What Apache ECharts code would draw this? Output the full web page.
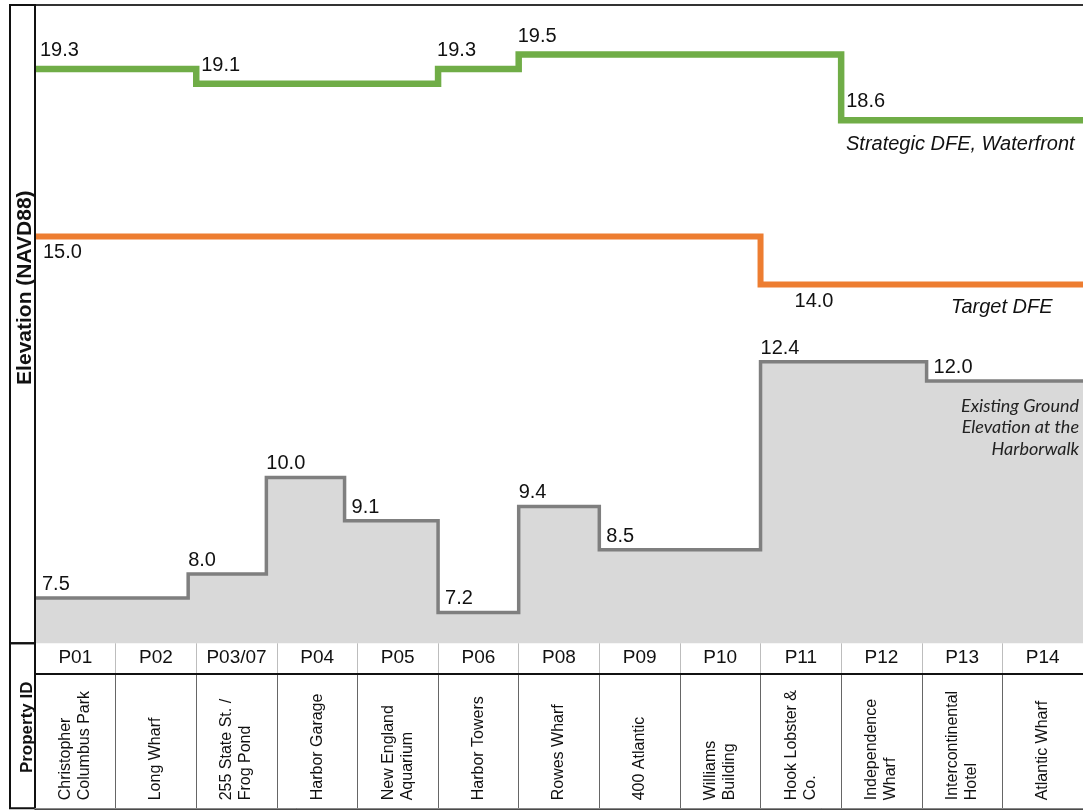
<!DOCTYPE html>
<html>
<head>
<meta charset="utf-8">
<script src="https://cdn.jsdelivr.net/npm/echarts@6/dist/echarts.min.js"></script>
<style>html,body{margin:0;padding:0;background:#fff}#c{width:1083px;height:811px}</style>
</head>
<body>
<div id="c"></div>
<script>
// ---------- data ----------
const propertyIds = ['P01','P02','P03/07','P04','P05','P06','P08','P09','P10','P11','P12','P13','P14'];
const propertyNames = ['Christopher\nColumbus Park','Long Wharf','255 State St. /\nFrog Pond','Harbor Garage',
  'New England\nAquarium','Harbor Towers','Rowes Wharf','400 Atlantic','Williams\nBuilding',
  'Hook Lobster &\nCo.','Independence\nWharf','Intercontinental\nHotel','Atlantic Wharf'];
// x = position along the harborwalk in property-column units (column i spans [i, i+1])
const strategicStart = [0, 2, 5, 6, 10];
const strategicDFE   = [19.3, 19.1, 19.3, 19.5, 18.6];
const targetStart    = [0, 9];
const targetDFE      = [15.0, 14.0];
const groundStart    = [0, 1.9, 2.87, 3.84, 5, 6, 7, 9, 11.06];
const groundElev     = [7.5, 8.0, 10.0, 9.1, 7.2, 9.4, 8.5, 12.4, 12.0];
const xEnd = propertyIds.length;

// ---------- layout / style ----------
const FONT = "'Liberation Sans', Arial, sans-serif";
const L = 35, T = 5, plotH = 638.3, row1H = 30, row2H = 135;
const targetLabelDx = [8, 34];
const downOrFirst = (i, v) => i === 0 || v[i] < v[i - 1];

function stepItems(starts, vals, dx) {
  const items = starts.map((x, i) => ({ value: [x, vals[i]], label: { offset: [dx(i, vals), 0] } }));
  items.push({ value: [xEnd, vals[vals.length - 1]], label: { show: false } });
  return items;
}
const valLabel = (pos, dist) => ({
  show: true, position: pos, align: 'left', distance: dist,
  fontSize: 20, fontFamily: FONT, color: '#111',
  formatter: p => p.value[1].toFixed(1)
});
const noAxis = { axisLine: {show: false}, axisTick: {show: false}, axisLabel: {show: false}, splitLine: {show: false} };

const chart = echarts.init(document.getElementById('c'), null, {renderer: 'canvas'});
chart.setOption({
  animation: false,
  backgroundColor: '#fff',
  grid: [
    {left: L, top: T, right: 0, height: plotH},
    {left: L, top: T + plotH, right: 0, height: row1H},
    {left: L, top: T + plotH + row1H, right: 0, height: row2H},
    {left: 10, top: T, width: L - 10, height: plotH, show: true, borderColor: '#111', borderWidth: 2, z: 10},
    {left: 10, top: T + plotH, width: L - 10, height: row1H + row2H, show: true, borderColor: '#111', borderWidth: 2, z: 10}
  ],
  xAxis: [
    {type: 'value', gridIndex: 0, min: 0, max: xEnd, show: false},
    Object.assign({type: 'value', gridIndex: 0, min: 0, max: xEnd, position: 'top'}, noAxis,
      {axisLine: {show: true, lineStyle: {color: '#333', width: 2}}}),
    {type: 'category', gridIndex: 1, data: propertyIds, position: 'top', boundaryGap: true, z: 10,
      axisLine: {show: true, lineStyle: {color: '#111', width: 2}}, axisTick: {show: false},
      axisLabel: {inside: true, interval: 0, margin: 5, fontSize: 19, fontFamily: FONT, color: '#111'},
      splitLine: {show: true, interval: 0, showMinLine: false, showMaxLine: false,
        lineStyle: {color: '#bdbdbd', width: 1}}},
    {type: 'category', gridIndex: 2, data: propertyIds, position: 'top', boundaryGap: true, z: 10,
      axisLine: {show: true, lineStyle: {color: '#111', width: 1.5}}, axisTick: {show: false},
      axisLabel: {show: false},
      splitLine: {show: true, interval: 0, showMinLine: false, showMaxLine: false,
        lineStyle: {color: '#666', width: 1}}},
    {type: 'category', gridIndex: 2, data: propertyNames, position: 'bottom', boundaryGap: true, z: 10,
      axisLine: {show: true, lineStyle: {color: '#888', width: 1}}, axisTick: {show: false},
      axisLabel: {inside: true, rotate: 90, interval: 0, margin: 8, fontSize: 16, lineHeight: 19,
        fontFamily: FONT, color: '#111'},
      splitLine: {show: false}},
    {type: 'value', gridIndex: 3, show: false},
    {type: 'value', gridIndex: 4, show: false}
  ],
  yAxis: [
    Object.assign({type: 'value', gridIndex: 0, min: 6.56, max: 19.80,
      name: 'Elevation (NAVD88)', nameLocation: 'middle', nameGap: -1,
      nameTextStyle: {fontWeight: 'bold', fontSize: 21, fontFamily: FONT, color: '#111', padding: [0, 0, 0, 73]}}, noAxis),
    {type: 'value', gridIndex: 0, min: 11.42, max: 20.18, show: false},
    {type: 'value', gridIndex: 1, show: false},
    Object.assign({type: 'value', gridIndex: 2,
      name: 'Property ID', nameLocation: 'middle', nameGap: -1,
      nameTextStyle: {fontWeight: 'bold', fontSize: 17, fontFamily: FONT, color: '#111', padding: [0, 0, 0, 27]}}, noAxis),
    {type: 'value', gridIndex: 3, show: false},
    {type: 'value', gridIndex: 4, show: false}
  ],
  series: [
    {name: 'Existing Ground Elevation at the Harborwalk', type: 'line', xAxisIndex: 0, yAxisIndex: 0,
      step: 'end', silent: true, symbol: 'circle', symbolSize: 1,
      itemStyle: {color: '#7f7f7f'},
      lineStyle: {color: '#7f7f7f', width: 3.5, join: 'miter'},
      areaStyle: {color: '#d9d9d9', opacity: 1, origin: 'start'},
      label: valLabel('top', 3),
      data: stepItems(groundStart, groundElev, (i, v) => downOrFirst(i, v) ? 7 : 0)},
    {name: 'Target DFE', type: 'line', xAxisIndex: 0, yAxisIndex: 0,
      step: 'end', silent: true, symbol: 'circle', symbolSize: 1,
      itemStyle: {color: '#ed7d31'},
      lineStyle: {color: '#ed7d31', width: 6, join: 'miter'},
      label: valLabel('bottom', 6),
      data: stepItems(targetStart, targetDFE, i => targetLabelDx[i])},
    {name: 'Strategic DFE, Waterfront', type: 'line', xAxisIndex: 0, yAxisIndex: 1,
      step: 'end', silent: true, symbol: 'circle', symbolSize: 1,
      itemStyle: {color: '#70ad47'},
      lineStyle: {color: '#70ad47', width: 6.5, join: 'miter'},
      label: valLabel('top', 8),
      data: stepItems(strategicStart, strategicDFE, (i, v) => downOrFirst(i, v) ? 5 : -1)}
  ],
  graphic: [
    {type: 'text', x: 846, y: 134, z: 100, silent: true,
      style: {text: 'Strategic DFE, Waterfront', fontStyle: 'italic', fontSize: 20, fontFamily: FONT, fill: '#111'}},
    {type: 'text', x: 951, y: 297, z: 100, silent: true,
      style: {text: 'Target DFE', fontStyle: 'italic', fontSize: 20, fontFamily: FONT, fill: '#111'}},
    {type: 'text', x: 1079, y: 395, z: 100, silent: true,
      style: {text: 'Existing Ground\nElevation at the\nHarborwalk', align: 'right', fontStyle: 'italic',
        fontSize: 18, lineHeight: 21.7, fontFamily: "Lato, 'Open Sans', sans-serif", fill: '#222'}}
  ]
});
</script>
</body>
</html>
